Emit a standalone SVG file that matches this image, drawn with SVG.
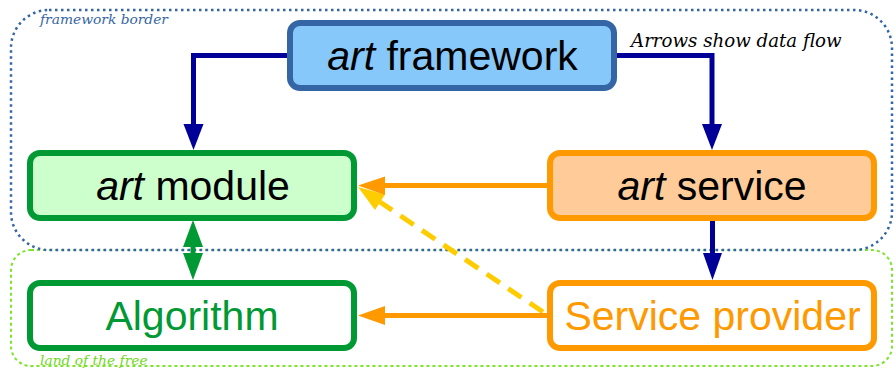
<svg xmlns="http://www.w3.org/2000/svg" width="894" height="369" viewBox="0 0 894 369">
<style>
.box{stroke-width:6}
.lbl{font-family:"Liberation Sans",Arial,sans-serif;font-size:41px;text-anchor:middle}
.it{font-style:italic}
.note{font-family:"DejaVu Serif",serif;font-style:italic}
.blue{stroke:#000099;stroke-width:5;fill:none}
.bluehead{fill:#000099}
.orange{stroke:#ff9900;stroke-width:5;fill:none}
.orangehead{fill:#ff9900}
.green{stroke:#009933;stroke-width:5;fill:none}
.greenhead{fill:#009933}
</style>
<g id="regions">
<rect x="11" y="250" width="881" height="116" rx="20" fill="none" stroke="#7be52a" stroke-width="2" stroke-dasharray="3 3"/>
<rect x="11" y="10" width="881" height="240" rx="38" fill="none" stroke="#3465a4" stroke-width="2.5" stroke-dasharray="2.5 3.5"/>
<text class="note" x="40" y="24" font-size="13.8" fill="#3465a4">framework border</text>
<text class="note" x="40" y="365" font-size="13.8" fill="#6fd820">land of the free</text>
<text class="note" x="631" y="47" font-size="18.2" fill="#000000">Arrows show data flow</text>
</g>
<g id="framework">
<rect class="box" x="290" y="23" width="324" height="65" rx="10" fill="#87c8fb" stroke="#3465a4"/>
<text class="lbl" x="452.5" y="70" fill="#000000"><tspan class="it">art</tspan> framework</text>
</g>
<g id="module">
<rect class="box" x="30" y="153" width="324" height="65" rx="10" fill="#ccffcc" stroke="#009933"/>
<text class="lbl" x="193" y="200" fill="#000000"><tspan class="it">art</tspan> module</text>
</g>
<g id="service">
<rect class="box" x="550" y="153" width="324" height="65" rx="10" fill="#ffcc99" stroke="#ff9900"/>
<text class="lbl" x="712" y="200" fill="#000000"><tspan class="it">art</tspan> service</text>
</g>
<g id="algorithm">
<rect class="box" x="30" y="283" width="324" height="65" rx="10" fill="#ffffff" stroke="#009933"/>
<text class="lbl" x="192" y="330" fill="#009933">Algorithm</text>
</g>
<g id="provider">
<rect class="box" x="550" y="283" width="324" height="65" rx="10" fill="#ffffff" stroke="#ff9900"/>
<text class="lbl" x="712.5" y="330" fill="#ff9900">Service provider</text>
</g>
<g id="connectors">
<path class="blue" d="M287,55.5 H193.5 V126"/>
<polygon class="bluehead" points="183.5,124 203.5,124 193.5,150"/>
<path class="blue" d="M617,55.5 H712 V126"/>
<polygon class="bluehead" points="702,124 722,124 712,150"/>
<path class="blue" d="M712.5,221 V256"/>
<polygon class="bluehead" points="703,253 722,253 712.5,280"/>
<polygon class="greenhead" points="193,220 183,247 203,247"/>
<polygon class="greenhead" points="183,253 203,253 193,280"/>
<path class="green" d="M193,245 V255"/>
<path d="M543,312 L380,202" stroke="#ffcc00" stroke-width="5" fill="none" stroke-dasharray="16 10"/>
<polygon fill="#ffcc00" points="358,187 385,194.5 375,210"/>
<path class="orange" d="M548,185.5 H383"/>
<polygon class="orangehead" points="358,185.5 385,176.5 385,195"/>
<path class="orange" d="M548,315.5 H383"/>
<polygon class="orangehead" points="358,315.5 385,306 385,325"/>
</g>
</svg>
